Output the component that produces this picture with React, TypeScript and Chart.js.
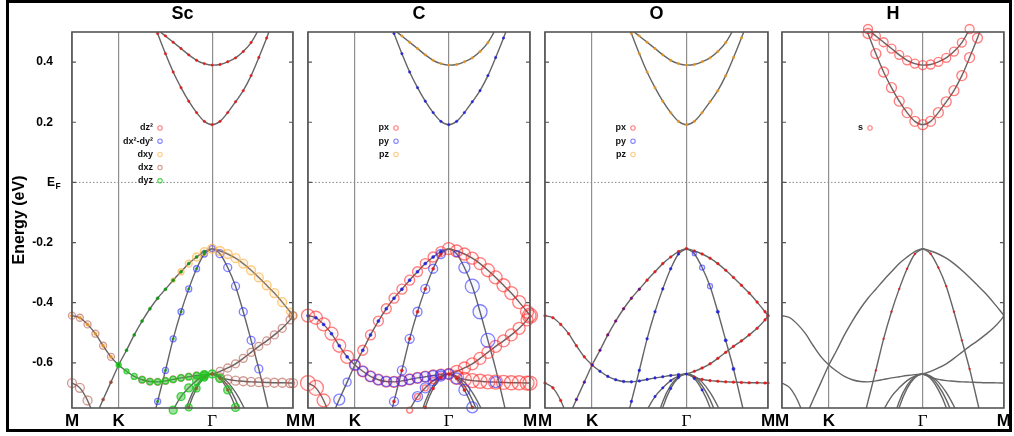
import React, { useEffect, useRef } from 'react';
import { Chart, registerables } from 'chart.js';

Chart.register(...registerables);

// ---------------- data ----------------
const N = null;
// k-path positions (M -> K -> Gamma -> M), same grid for every band
const K_PATH = [0, 0.056, 0.111, 0.167, 0.222, 0.278, 0.333, 0.389, 0.444, 0.5, 0.556, 0.611, 0.667, 0.722, 0.778, 0.833, 0.889, 0.944, 1.0, 1.056, 1.111, 1.167, 1.222, 1.278, 1.333, 1.389, 1.444, 1.5, 1.556, 1.577];
const SYM_POINTS = [0, 0.333, 1.0, 1.577];
const SYM_LABELS = ['M', 'K', 'Γ', 'M'];
const ENERGY_TICKS = [0.4, 0.2, 0, -0.2, -0.4, -0.6];
const ENERGY_LABELS = ['0.4', '0.2', 'E_F', '-0.2', '-0.4', '-0.6'];
const E_MIN = -0.75;
const E_MAX = 0.5;

// band energies (eV) on K_PATH
const BAND_C2 = [N, N, N, N, N, N, N, N, N, N, 0.56, 0.51, 0.487, 0.466, 0.445, 0.424, 0.406, 0.395, 0.39, 0.392, 0.401, 0.414, 0.435, 0.465, 0.51, 0.57, N, N, N, N];
const BAND_C1 = [N, N, N, N, N, N, N, N, N, N, 0.565, 0.495, 0.428, 0.367, 0.315, 0.27, 0.232, 0.203, 0.192, 0.203, 0.232, 0.268, 0.305, 0.355, 0.415, 0.48, 0.55, N, N, N];
const BAND_DOME = [N, N, N, -0.78, -0.722, -0.664, -0.607, -0.558, -0.507, -0.461, -0.42, -0.385, -0.355, -0.325, -0.297, -0.27, -0.248, -0.23, -0.22, -0.228, -0.238, -0.252, -0.27, -0.292, -0.316, -0.342, -0.368, -0.398, -0.43, -0.443];
const BAND_MKGM = [-0.443, -0.45, -0.472, -0.503, -0.543, -0.58, -0.607, -0.628, -0.645, -0.656, -0.662, -0.663, -0.66, -0.655, -0.65, -0.646, -0.642, -0.639, -0.637, -0.628, -0.617, -0.603, -0.585, -0.565, -0.545, -0.527, -0.507, -0.485, -0.457, -0.443];
const BAND_FLAT = [N, N, N, N, N, N, N, N, N, N, N, N, N, N, N, N, N, N, -0.637, -0.648, -0.655, -0.659, -0.661, -0.663, -0.664, -0.665, -0.666, -0.666, -0.667, -0.667];
const BAND_LOWL = [-0.667, -0.683, -0.725, -0.79, N, N, N, N, N, N, N, N, N, N, N, N, N, N, N, N, N, N, N, N, N, N, N, N, N, N];
const BAND_STEEPL = [N, N, N, N, N, N, N, N, N, N, -0.83, -0.728, -0.625, -0.52, -0.43, -0.354, -0.287, -0.238, -0.22, N, N, N, N, N, N, N, N, N, N, N];
const BAND_STEEPR = [N, N, N, N, N, N, N, N, N, N, N, N, N, N, N, N, N, N, -0.22, -0.237, -0.283, -0.345, -0.43, -0.525, -0.62, -0.73, -0.84, N, N, N];
const BAND_P1 = [N, N, N, N, N, N, N, N, N, N, N, N, -0.82, -0.757, -0.712, -0.683, -0.659, -0.644, -0.637, -0.644, -0.664, -0.698, -0.744, -0.8, N, N, N, N, N, N];
const BAND_P2 = [N, N, N, N, N, N, N, N, N, N, N, N, N, N, -0.84, -0.748, -0.685, -0.649, -0.637, -0.652, -0.69, -0.748, -0.83, N, N, N, N, N, N, N];
const BAND_P3 = [N, N, N, N, N, N, N, N, N, N, N, N, N, N, -0.81, -0.728, -0.675, -0.646, -0.637, -0.647, -0.676, -0.722, -0.785, N, N, N, N, N, N, N];

const BANDS: Record<string, (number | null)[]> = {
  c2: BAND_C2, c1: BAND_C1, dome: BAND_DOME, mkgm: BAND_MKGM, flat: BAND_FLAT, lowL: BAND_LOWL,
  steepL: BAND_STEEPL, steepR: BAND_STEEPR, p1: BAND_P1, p2: BAND_P2, p3: BAND_P3,
};

// projected weights: [band, fromIndex, toIndex, circle radius]
type Seg = [string, number, number, number];
const SC_DZ2: Seg[] = [['c1', 10, 26, 1.2], ['c2', 10, 25, 1.2], ['p2', 15, 21, 1.3], ['p1', 18, 18, 1.5]];
const SC_DX2Y2: Seg[] = [['steepL', 11, 17, 3], ['steepR', 19, 24, 4], ['dome', 18, 18, 3]];
const SC_DXY: Seg[] = [['dome', 13, 13, 2], ['dome', 14, 14, 3], ['dome', 15, 15, 3.5], ['dome', 16, 17, 4], ['dome', 18, 27, 4.5], ['dome', 28, 29, 3.5], ['mkgm', 0, 5, 1.5]];
const SC_DXZ: Seg[] = [['dome', 3, 5, 1.5], ['mkgm', 0, 5, 3.5], ['mkgm', 9, 17, 3.5], ['mkgm', 19, 29, 4], ['flat', 19, 29, 4.5], ['lowL', 0, 2, 4.5]];
const SC_DYZ: Seg[] = [['dome', 6, 17, 1.5], ['mkgm', 6, 7, 2.5], ['mkgm', 8, 16, 3], ['mkgm', 17, 18, 4], ['p1', 13, 17, 4], ['p2', 15, 17, 3.5], ['p2', 19, 21, 4], ['steepL', 11, 17, 1.2]];

const C_PX: Seg[] = [['dome', 7, 17, 5], ['dome', 18, 22, 6], ['dome', 23, 28, 6.5], ['dome', 29, 29, 7.5], ['mkgm', 0, 5, 6.5], ['mkgm', 6, 18, 5.5], ['mkgm', 19, 29, 6], ['flat', 19, 29, 7], ['lowL', 0, 1, 7.5], ['lowL', 2, 2, 6.5], ['steepL', 11, 17, 1.5], ['p1', 13, 17, 3], ['p2', 15, 21, 1.5]];
const C_PY: Seg[] = [['c1', 10, 26, 1.2], ['dome', 4, 4, 5.5], ['dome', 5, 5, 4], ['dome', 7, 17, 1.5], ['steepL', 11, 17, 4.5], ['steepR', 19, 19, 3], ['steepR', 20, 20, 5.5], ['steepR', 21, 23, 7], ['mkgm', 0, 5, 1.5], ['mkgm', 6, 18, 5], ['flat', 24, 24, 5.5], ['p1', 14, 17, 5], ['p2', 19, 21, 5.5]];
const C_PZ: Seg[] = [['c2', 10, 25, 1.2]];

const O_PX: Seg[] = [['dome', 3, 29, 1.3], ['mkgm', 0, 6, 1.3], ['mkgm', 19, 29, 1.3], ['flat', 19, 29, 1.3], ['lowL', 0, 2, 1.3]];
const O_PY: Seg[] = [['steepL', 11, 17, 1.3], ['steepR', 19, 19, 2], ['steepR', 20, 21, 2.5], ['steepR', 22, 24, 1.6], ['mkgm', 7, 17, 1.3], ['dome', 4, 12, 1], ['p1', 14, 17, 1.2], ['p2', 16, 20, 1.2]];
const O_PZ: Seg[] = [['c1', 10, 26, 1.2], ['c2', 10, 25, 1.2]];

const H_S: Seg[] = [['c1', 11, 25, 5], ['c2', 11, 24, 4.5], ['steepL', 12, 17, 0.9], ['steepR', 19, 24, 0.9]];

const PANEL_TITLES = ['Sc', 'C', 'O', 'H'];
const SC_LABELS = ['dz²', 'dx²-dy²', 'dxy', 'dxz', 'dyz'];
const P_LABELS = ['px', 'py', 'pz'];
const H_LABELS = ['s'];

// ---------------- styles / layout ----------------
const FONT = '"Liberation Sans", Arial, Helvetica, sans-serif';
const LINE_COLOR = '#656565';
const COLORS: Record<string, [string, string, string]> = {
  red: ['rgba(255,40,40,0.6)', 'rgba(255,40,40,0.04)', 'rgba(235,20,20,0.9)'],
  blue: ['rgba(45,45,255,0.6)', 'rgba(45,45,255,0.04)', 'rgba(30,30,225,0.9)'],
  orange: ['rgba(255,170,50,0.6)', 'rgba(255,190,100,0.18)', 'rgba(235,150,25,0.9)'],
  brown: ['rgba(175,85,70,0.58)', 'rgba(175,85,70,0.05)', 'rgba(150,70,55,0.9)'],
  green: ['rgba(25,200,25,0.8)', 'rgba(40,190,40,0.45)', 'rgba(20,150,20,0.95)'],
};

const PANEL_DEFS = [
  { labels: SC_LABELS, colors: ['red', 'blue', 'orange', 'brown', 'green'], specs: [SC_DZ2, SC_DX2Y2, SC_DXY, SC_DXZ, SC_DYZ] },
  { labels: P_LABELS, colors: ['red', 'blue', 'orange'], specs: [C_PX, C_PY, C_PZ] },
  { labels: P_LABELS, colors: ['red', 'blue', 'orange'], specs: [O_PX, O_PY, O_PZ] },
  { labels: H_LABELS, colors: ['red'], specs: [H_S] },
];

const PANEL_LEFT = [72, 308, 545, 782];
const PANEL_RIGHT = [293, 530, 768, 1004];
const H = 436;

function fatPoints(spec: Seg[]) {
  const pts: { x: number; y: number; r: number }[] = [];
  for (const [band, from, to, r] of spec) {
    const e = BANDS[band];
    for (let i = from; i <= to; i++) {
      const v = e[i];
      if (v == null || v < E_MIN - 0.012 || v > E_MAX + 0.015) continue;
      pts.push({ x: K_PATH[i], y: v, r });
    }
  }
  return pts;
}

function linePoints(e: (number | null)[]) {
  const pts: { x: number; y: number }[] = [];
  e.forEach((v, i) => { if (v != null) pts.push({ x: K_PATH[i], y: v }); });
  return pts;
}

function makeChart(canvas: HTMLCanvasElement, p: number) {
  const def = PANEL_DEFS[p];
  const datasets: any[] = [];
  for (let o = def.specs.length - 1; o >= 0; o--) {
    const [bc, fc, dc] = COLORS[def.colors[o]];
    datasets.push({
      type: 'scatter',
      data: fatPoints(def.specs[o]),
      showLine: false,
      clip: false,
      pointRadius: (c: any) => (c.raw ? c.raw.r : 0),
      pointHoverRadius: (c: any) => (c.raw ? c.raw.r : 0),
      pointBorderColor: (c: any) => (c.raw && c.raw.r <= 1.6 ? dc : bc),
      pointBackgroundColor: (c: any) => (c.raw && c.raw.r <= 1.6 ? dc : fc),
      pointBorderWidth: (c: any) => (c.raw && c.raw.r <= 1.6 ? 0.5 : 1.3),
    });
  }
  Object.keys(BANDS).forEach((b) => {
    datasets.push({
      type: 'scatter',
      data: linePoints(BANDS[b]),
      showLine: true,
      borderColor: LINE_COLOR,
      borderWidth: 1.4,
      pointRadius: 0,
      cubicInterpolationMode: 'monotone',
      fill: false,
    });
  });

  const decor = {
    id: 'decor' + p,
    beforeDatasetsDraw(chart: any) {
      const { ctx, chartArea: a, scales } = chart;
      const yf = scales.y.getPixelForValue(0);
      ctx.save();
      ctx.strokeStyle = '#8a8a8a';
      ctx.lineWidth = 1;
      ctx.setLineDash([1.5, 2]);
      ctx.beginPath();
      ctx.moveTo(a.left, yf);
      ctx.lineTo(a.right, yf);
      ctx.stroke();
      ctx.restore();
    },
    afterDatasetsDraw(chart: any) {
      const { ctx, chartArea: a, scales } = chart;
      ctx.save();
      ctx.strokeStyle = '#555';
      ctx.lineWidth = 1.6;
      ctx.strokeRect(a.left, a.top, a.right - a.left, a.bottom - a.top);
      ctx.lineWidth = 1.2;
      ENERGY_TICKS.forEach((v) => {
        const y = scales.y.getPixelForValue(v);
        ctx.beginPath();
        ctx.moveTo(a.left, y); ctx.lineTo(a.left + 4, y);
        ctx.moveTo(a.right, y); ctx.lineTo(a.right - 4, y);
        ctx.stroke();
      });
      // title
      ctx.fillStyle = '#000';
      ctx.font = `bold 18px ${FONT}`;
      ctx.textAlign = 'center';
      ctx.textBaseline = 'middle';
      ctx.fillText(PANEL_TITLES[p], (a.left + a.right) / 2, 14);
      // legend
      ctx.font = `bold 9px ${FONT}`;
      ctx.textAlign = 'right';
      def.labels.forEach((lab, i) => {
        const y = 128 + i * 13.2;
        ctx.fillStyle = '#111';
        ctx.fillText(lab, a.left + 81, y);
        ctx.beginPath();
        ctx.arc(a.left + 88, y, 2.2, 0, Math.PI * 2);
        ctx.strokeStyle = COLORS[def.colors[i]][0];
        ctx.lineWidth = 1.1;
        ctx.stroke();
      });
      // E_F label
      if (p === 0) {
        const y0 = scales.y.getPixelForValue(0);
        ctx.fillStyle = '#000';
        ctx.textAlign = 'right';
        ctx.textBaseline = 'middle';
        ctx.font = `bold 12px ${FONT}`;
        ctx.fillText('E', 55, y0);
        ctx.font = `bold 8.5px ${FONT}`;
        ctx.textAlign = 'left';
        ctx.fillText('F', 55.5, y0 + 4);
      }
      ctx.restore();
    },
  };

  return new Chart(canvas, {
    type: 'scatter',
    data: { datasets },
    options: {
      animation: false,
      responsive: false,
      devicePixelRatio: 1,
      events: [],
      layout: { padding: { left: p === 0 ? 8 : 40, right: p === 3 ? 10 : 40, top: 32, bottom: 0 } },
      plugins: { legend: { display: false }, tooltip: { enabled: false } },
      scales: {
        x: {
          type: 'linear',
          min: 0,
          max: 1.577,
          afterBuildTicks: (s: any) => { s.ticks = SYM_POINTS.map((v) => ({ value: v })); },
          afterFit: (s: any) => { s.height = 28; },
          grid: { color: '#8e8e8e', lineWidth: 1.2, drawTicks: false },
          border: { display: false },
          ticks: {
            autoSkip: false,
            maxRotation: 0,
            padding: 3,
            color: '#000',
            callback: (_v: any, i: number) => SYM_LABELS[i],
            font: (c: any) => (c.index === 2
              ? { family: '"Liberation Serif", serif', size: 17, weight: 'normal' }
              : { family: FONT, size: 17, weight: 'bold' }),
          },
        },
        y: {
          type: 'linear',
          min: E_MIN,
          max: E_MAX,
          display: p === 0,
          afterBuildTicks: (s: any) => { s.ticks = ENERGY_TICKS.map((v) => ({ value: v })); },
          afterFit: (s: any) => { s.width = p === 0 ? 64 : 0; },
          grid: { display: false },
          border: { display: false },
          ticks: {
            padding: 11,
            color: '#000',
            font: { family: FONT, size: 12, weight: 'bold' },
            callback: (_v: any, i: number) => (ENERGY_LABELS[i] === 'E_F' ? '' : ENERGY_LABELS[i]),
          },
          title: {
            display: p === 0,
            text: 'Energy (eV)',
            color: '#000',
            font: { family: FONT, size: 16, weight: 'bold' },
            padding: { top: 2, bottom: 0 },
          },
        },
      },
    } as any,
    plugins: [decor],
  } as any);
}

export default function App() {
  const r0 = useRef<HTMLCanvasElement>(null);
  const r1 = useRef<HTMLCanvasElement>(null);
  const r2 = useRef<HTMLCanvasElement>(null);
  const r3 = useRef<HTMLCanvasElement>(null);
  const refs = [r0, r1, r2, r3];

  const geom = PANEL_LEFT.map((l, p) => {
    const x = p === 0 ? 0 : l - 40;
    const padR = p === 3 ? 10 : 40;
    return { x, w: PANEL_RIGHT[p] + padR - x };
  });

  useEffect(() => {
    const charts = refs.map((r, p) => makeChart(r.current as HTMLCanvasElement, p));
    return () => charts.forEach((c) => c.destroy());
  }, []);

  return (
    <div style={{ position: 'fixed', left: 0, top: 0, width: 1014, height: H, background: '#fff', overflow: 'hidden' }}>
      <div style={{ position: 'absolute', left: 6, top: 0, width: 1006, height: 432, border: '3px solid #000', boxSizing: 'border-box' }} />
      {geom.map((g, p) => (
        <canvas
          key={p}
          ref={refs[p]}
          width={g.w}
          height={H}
          style={{ position: 'absolute', left: g.x, top: 0, width: g.w, height: H }}
        />
      ))}
    </div>
  );
}
